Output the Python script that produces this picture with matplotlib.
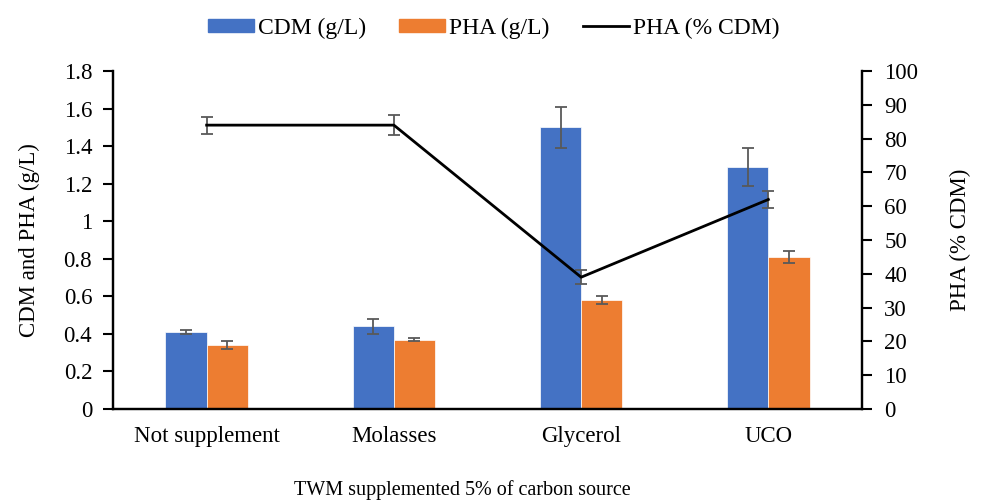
import matplotlib
matplotlib.use("Agg")
import matplotlib.pyplot as plt
import numpy as np
from matplotlib.lines import Line2D
from matplotlib.patches import Patch

categories = ["Not supplement", "Molasses", "Glycerol", "UCO"]
cdm = [0.41, 0.44, 1.50, 1.29]
cdm_err = [0.01, 0.04, 0.11, 0.10]
pha = [0.34, 0.37, 0.58, 0.81]
pha_err = [0.02, 0.01, 0.02, 0.03]
pha_pct = [84, 84, 39, 62]
pha_pct_err = [2.5, 3.0, 2.0, 2.5]

left_ticks = [0, 0.2, 0.4, 0.6, 0.8, 1, 1.2, 1.4, 1.6, 1.8]
left_tick_labels = ["0", "0.2", "0.4", "0.6", "0.8", "1", "1.2", "1.4", "1.6", "1.8"]
right_ticks = [0, 10, 20, 30, 40, 50, 60, 70, 80, 90, 100]

plt.rcParams["font.family"] = ["Liberation Serif", "DejaVu Serif"]
plt.rcParams["font.size"] = 16.5

BLUE = "#4472C4"
ORANGE = "#ED7D31"
ERR = "#595959"

fig = plt.figure(figsize=(9.81, 5.04), dpi=100)
ax = fig.add_axes([0.1152, 0.1885, 0.7635, 0.6705])
ax2 = ax.twinx()

x = np.arange(len(categories))
w = 0.22
ekw = dict(ecolor=ERR, elinewidth=1.3, capsize=4, capthick=1.3)
ax.bar(x - w / 2, cdm, w, color=BLUE, edgecolor="white", linewidth=0.5,
       yerr=cdm_err, error_kw=ekw, zorder=2)
ax.bar(x + w / 2, pha, w, color=ORANGE, edgecolor="white", linewidth=0.5,
       yerr=pha_err, error_kw=ekw, zorder=2)

# PHA content as a line on the secondary axis
ax2.errorbar(x, pha_pct, yerr=pha_pct_err, color="black", lw=2,
             ecolor=ERR, elinewidth=1.3, capsize=4, capthick=1.3)

ax.set_xlim(-0.5, 3.5)
ax.set_ylim(0, 1.8)
ax2.set_ylim(0, 100)
ax.set_xticks(x)
ax.set_xticklabels(categories)
ax.tick_params(axis="x", length=0, pad=12)
ax.set_yticks(left_ticks)
ax.set_yticklabels(left_tick_labels)
ax.tick_params(axis="y", direction="out", length=7, width=1.5, pad=8)
ax2.set_yticks(right_ticks)
ax2.tick_params(axis="y", direction="out", length=7, width=1.5, pad=9)

for a in (ax, ax2):
    for s in a.spines.values():
        s.set_linewidth(1.6)
    a.spines["top"].set_visible(False)

ax.set_ylabel("CDM and PHA (g/L)")
ax.yaxis.set_label_coords(-0.0975, 0.5)
ax2.set_ylabel("PHA (% CDM)")
ax2.yaxis.set_label_coords(1.1175, 0.5)
fig.text(0.471, 0.028, "TWM supplemented 5% of carbon source", ha="center",
         va="center", fontsize=14.5)

handles = [Patch(color=BLUE), Patch(color=ORANGE), Line2D([], [], color="black", lw=2)]
labels = ["CDM (g/L)", "PHA (g/L)", "PHA (% CDM)"]
fig.legend(handles, labels, loc="center", bbox_to_anchor=(0.503, 0.944), ncol=3,
           frameon=False, fontsize=17, handlelength=1.95, handleheight=0.5,
           columnspacing=1.4, handletextpad=0.17)

fig.savefig("out.png", dpi=100)
